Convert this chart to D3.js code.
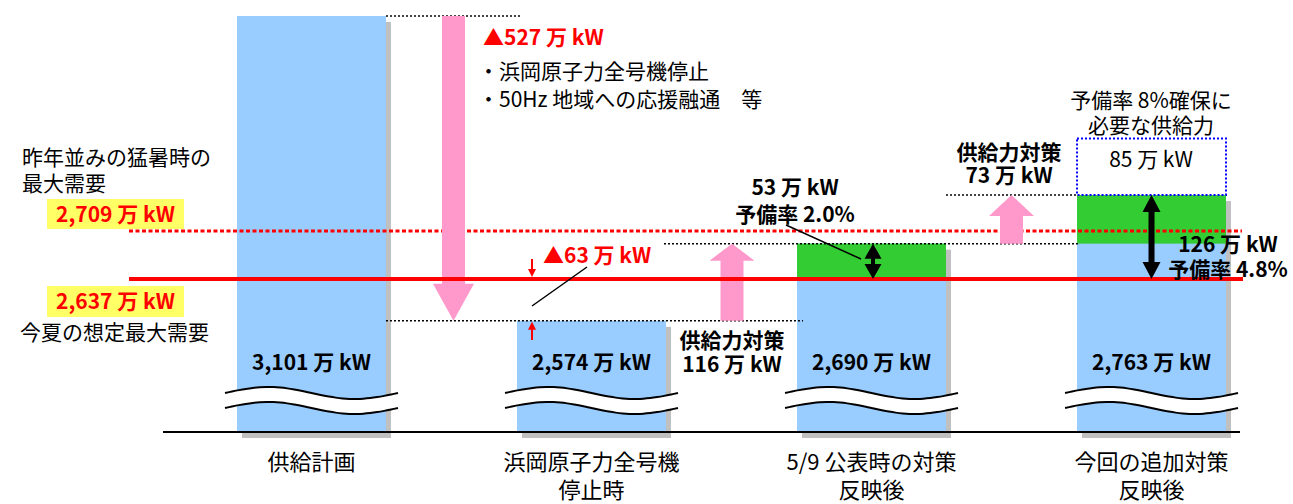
<!DOCTYPE html>
<html>
<head>
<meta charset="utf-8">
<script src="https://cdnjs.cloudflare.com/ajax/libs/d3/7.8.5/d3.min.js"></script>
<style>
  body { margin: 0; background: #fff; }
  svg text { font-family: "Noto Sans CJK JP", sans-serif; fill: #000; }
  svg text.b { font-weight: bold; }
  svg text.red { fill: #ff0000; }
</style>
</head>
<body>
<svg id="chart" width="1293" height="504"></svg>
<script>
// 供給力 (万kW)
var categories = ['供給計画', '浜岡原子力全号機\n停止時', '5/9 公表時の対策\n反映後', '今回の追加対策\n反映後'];
var supply = [3101, 2574, 2690, 2763];
// green part of the bar starts here (null = whole bar blue)
var greenFrom = [null, null, 2637, 2690];

var demandLastYear = 2709;   // 昨年並みの猛暑時の最大需要
var demandSummer = 2637;     // 今夏の想定最大需要
var required = 2848;         // 予備率 8% 確保に必要な供給力

var demandLabels = [['昨年並みの猛暑時の', '最大需要'], ['今夏の想定最大需要']];
var lossNotes = ['・浜岡原子力全号機停止', '・50Hz 地域への応援融通　等'];
var reserveRates = ['2.0%', '4.8%'];

var fmt = d3.format(',');
function man(v) { return fmt(v) + ' 万 kW'; }

var svg = d3.select('#chart');

var x = d3.scaleBand().domain(d3.range(categories.length)).range([237, 1226]).paddingInner(0.468);
var bw = x.bandwidth();
// axis is broken (wavy lines), first bar is clamped to the top
var y = d3.scaleLinear().domain([2407, 3032]).range([432, 16]).clamp(true);
var base = y.range()[0];
function cx(i) { return x(i) + bw / 2; }

// bars
var bars = svg.append('g').selectAll('g').data(supply).enter().append('g');
bars.append('rect').attr('fill', '#c0c0c0')
  .attr('x', function(d, i) { return x(i) + 5; })
  .attr('y', function(d) { return y(d) + 6; })
  .attr('width', bw)
  .attr('height', function(d) { return base - y(d); });
bars.append('rect').attr('fill', '#99ccff')
  .attr('x', function(d, i) { return x(i); })
  .attr('y', function(d) { return y(d); })
  .attr('width', bw)
  .attr('height', function(d) { return base - y(d); });
bars.filter(function(d, i) { return greenFrom[i] !== null; })
  .append('rect').attr('fill', '#33cc33')
  .attr('x', function(d) { return x(supply.indexOf(d)); })
  .attr('y', function(d) { return y(d); })
  .attr('width', bw)
  .attr('height', function(d) { return y(greenFrom[supply.indexOf(d)]) - y(d); });

// wavy break marks
function wave(x0, w, y0) {
  var pts = d3.range(0, 1.0001, 0.04).map(function(t) {
    return [x0 + t * w, y0 - 6 * Math.sin(2 * Math.PI * t)];
  });
  return pts;
}
var line = d3.line().curve(d3.curveCatmullRom);
supply.forEach(function(d, i) {
  var top = wave(x(i) - 12, bw + 24, 393);
  var bot = wave(x(i) - 12, bw + 24, 408);
  svg.append('path').attr('fill', '#fff')
    .attr('d', line(top) + 'L' + line(bot.slice().reverse()).slice(1) + 'Z');
  [top, bot].forEach(function(p) {
    svg.append('path').attr('d', line(p)).attr('fill', 'none').attr('stroke', '#000').attr('stroke-width', 2);
  });
});

// baseline
svg.append('line').attr('x1', 163).attr('x2', 1240).attr('y1', base).attr('y2', base)
  .attr('stroke', '#000').attr('stroke-width', 2);

// black dotted guides
var guides = [
  [supply[0], x(0) + bw, x(1) + 4],
  [supply[1], x(0) + bw, x(2) + 6],
  [supply[2], x(1) + bw - 2, x(3) + 1],
  [supply[3], x(2) + bw, x(3)]
];
svg.append('g').selectAll('line').data(guides).enter().append('line')
  .attr('x1', function(d) { return d[1]; }).attr('x2', function(d) { return d[2]; })
  .attr('y1', function(d) { return y(d[0]); }).attr('y2', function(d) { return y(d[0]); })
  .attr('stroke', '#000').attr('stroke-width', 1.5).attr('stroke-dasharray', '2,2');

// required-supply box
svg.append('rect').attr('x', x(3)).attr('y', y(required)).attr('width', bw)
  .attr('height', y(supply[3]) - y(required))
  .attr('fill', '#fff').attr('stroke', '#0000ff').attr('stroke-width', 2).attr('stroke-dasharray', '2,2');

// demand lines
svg.append('line').attr('x1', 129).attr('x2', 1242).attr('y1', y(demandLastYear)).attr('y2', y(demandLastYear))
  .attr('stroke', '#ff0000').attr('stroke-width', 3).attr('stroke-dasharray', '4,2.5');

// pink block arrows
function blockArrow(c, yFrom, yTo, shaftW, headW, headH) {
  var dir = yTo > yFrom ? 1 : -1;
  var hb = yTo - dir * headH;
  return [[c - shaftW / 2, yFrom], [c + shaftW / 2, yFrom], [c + shaftW / 2, hb], [c + headW / 2, hb],
    [c, yTo], [c - headW / 2, hb], [c - shaftW / 2, hb]];
}
var arrows = [
  blockArrow(453.5, y(supply[0]), y(supply[1]), 23, 41, 37),
  blockArrow(732, y(supply[1]), y(supply[2]), 23, 45, 17),
  blockArrow(1011.5, y(supply[2]), y(supply[3]), 23, 45, 21)
];
svg.append('g').selectAll('path').data(arrows).enter().append('path')
  .attr('d', function(d) { return 'M' + d.join('L') + 'Z'; }).attr('fill', '#ff99cc');

svg.append('line').attr('x1', 129).attr('x2', 1243).attr('y1', y(demandSummer)).attr('y2', y(demandSummer))
  .attr('stroke', '#ff0000').attr('stroke-width', 4);

// black double arrows (reserve)
function dblArrow(c, y1, y2, headW, headH, shaftW) {
  return 'M' + c + ',' + y1 + 'L' + (c + headW / 2) + ',' + (y1 + headH) + 'L' + (c + shaftW / 2) + ',' + (y1 + headH) +
    'L' + (c + shaftW / 2) + ',' + (y2 - headH) + 'L' + (c + headW / 2) + ',' + (y2 - headH) + 'L' + c + ',' + y2 +
    'L' + (c - headW / 2) + ',' + (y2 - headH) + 'L' + (c - shaftW / 2) + ',' + (y2 - headH) +
    'L' + (c - shaftW / 2) + ',' + (y1 + headH) + 'L' + (c - headW / 2) + ',' + (y1 + headH) + 'Z';
}
svg.append('path').attr('d', dblArrow(cx(2) + 1.5, y(supply[2]), y(demandSummer), 17, 15, 4)).attr('fill', '#000');
svg.append('path').attr('d', dblArrow(cx(3), y(supply[3]), y(demandSummer), 18, 17, 6)).attr('fill', '#000');

// small red arrows for the 63 shortfall
function thinArrow(xp, yFrom, yTo) {
  var dir = yTo > yFrom ? 1 : -1;
  svg.append('line').attr('x1', xp).attr('x2', xp).attr('y1', yFrom).attr('y2', yTo - dir * 4)
    .attr('stroke', '#ff0000').attr('stroke-width', 2);
  svg.append('path').attr('fill', '#ff0000')
    .attr('d', 'M' + (xp - 4) + ',' + (yTo - dir * 8) + 'L' + (xp + 4) + ',' + (yTo - dir * 8) + 'L' + xp + ',' + yTo + 'Z');
}
thinArrow(532, 259, y(demandSummer) - 2);
thinArrow(532, 340, y(supply[1]) + 1);

// leader lines
var leaders = [[532, 306, 587, 267], [786, 225, 861, 259]];
svg.append('g').selectAll('line').data(leaders).enter().append('line')
  .attr('x1', function(d) { return d[0]; }).attr('y1', function(d) { return d[1]; })
  .attr('x2', function(d) { return d[2]; }).attr('y2', function(d) { return d[3]; })
  .attr('stroke', '#000').attr('stroke-width', 1.5);

// text helper
function label(xp, yp, lines, opts) {
  opts = opts || {};
  var t = svg.append('text').attr('x', xp).attr('y', yp)
    .attr('font-size', opts.size || 21)
    .attr('text-anchor', opts.anchor || 'start')
    .attr('class', opts.cls || null);
  [].concat(lines).forEach(function(s, k) {
    t.append('tspan').attr('x', xp).attr('dy', k === 0 ? 0 : (opts.lh || 25)).text(s);
  });
  return t;
}

// bar values
supply.forEach(function(d, i) {
  label(cx(i), 370, man(d), { anchor: 'middle', cls: 'b' });
});

// categories
categories.forEach(function(c, i) {
  label(cx(i), 470, c.split('\n'), { anchor: 'middle', size: 22, lh: 28 });
});

// demand labels on the left
svg.append('rect').attr('x', 47).attr('y', 199).attr('width', 137).attr('height', 30).attr('fill', '#ffff66');
svg.append('rect').attr('x', 47).attr('y', 286).attr('width', 137).attr('height', 31).attr('fill', '#ffff66');
label(22, 165, demandLabels[0], { lh: 26 });
label(115.5, 222, man(demandLastYear), { anchor: 'middle', cls: 'b red' });
label(115.5, 309, man(demandSummer), { anchor: 'middle', cls: 'b red' });
label(20, 340, demandLabels[1]);

// annotations
label(483, 45, '▲' + man(supply[0] - supply[1]), { cls: 'b red' });
label(478, 79, lossNotes, { lh: 28 });
label(543, 263, '▲' + man(demandSummer - supply[1]), { cls: 'b red' });
label(732, 348, ['供給力対策', man(supply[2] - supply[1])], { anchor: 'middle', cls: 'b', lh: 24 });
label(795, 195, [man(supply[2] - demandSummer), '予備率 ' + reserveRates[0]], { anchor: 'middle', cls: 'b', lh: 27 });
label(1009, 160, ['供給力対策', man(supply[3] - supply[2])], { anchor: 'middle', cls: 'b', lh: 23 });
label(1151, 108, ['予備率 8%確保に', '必要な供給力'], { anchor: 'middle', lh: 25 });
label(1151, 167, man(required - supply[3]), { anchor: 'middle' });
label(1228, 252, [man(supply[3] - demandSummer), '予備率 ' + reserveRates[1]], { anchor: 'middle', cls: 'b', lh: 25 });
</script>
</body>
</html>
